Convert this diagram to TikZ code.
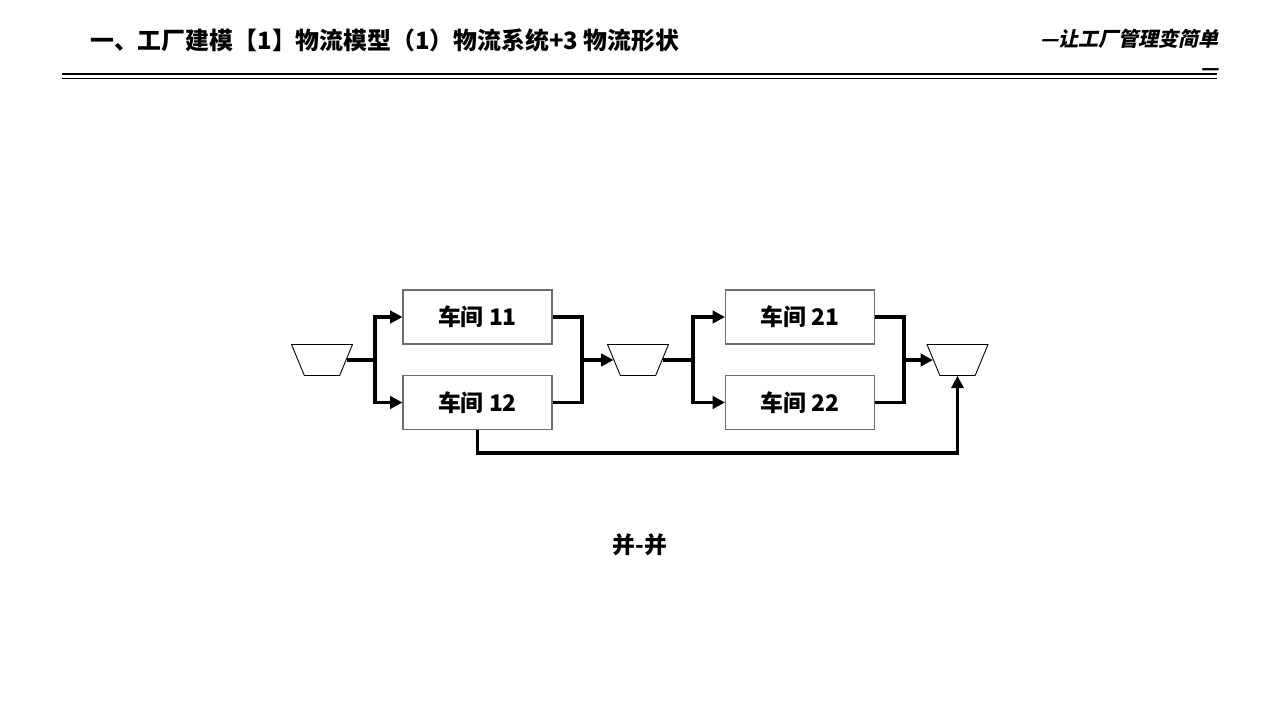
\documentclass[tikz,border=0pt]{standalone}
\usepackage{fontspec}
\setmainfont{Noto Sans CJK SC}
\newfontfamily\slantcjk{Noto Sans CJK SC}[FakeSlant=0.22]
\usepackage{xcolor}
\usepackage{tikz}
\usetikzlibrary{arrows.meta,positioning,shapes.geometric,calc}
\definecolor{trait}{RGB}{0,0,0}
\definecolor{cadre}{RGB}{110,110,110}

\begin{document}
\begin{tikzpicture}[x=0.02cm,y=-0.02cm,
    atelier/.style={draw=cadre,line width=0.6pt,minimum width=2.98cm,minimum height=1.08cm,
                    font=\fontsize{13}{15}\selectfont\bfseries,inner sep=0pt},
    stock/.style={draw=trait,line width=0.5pt,trapezium,trapezium stretches=true,
                  trapezium left angle=70,trapezium right angle=70,shape border rotate=180,
                  minimum width=1.22cm,minimum height=0.62cm,inner sep=2pt},
    flux/.style={trait,line width=1.8pt},
    fluxa/.style={flux,-{Triangle[length=7pt,width=7pt]}}]
      \useasboundingbox (0,0) rectangle (1280,720);
      % en-tete
      \node[anchor=west,font=\fontsize{13.6}{16}\selectfont\bfseries] (titre) at (84,40)
           {一、工厂建模【1】物流模型（1）物流系统+3 物流形状};
      \node[anchor=north east,align=right,font=\fontsize{11.4}{16.5}\selectfont\slantcjk\bfseries,inner sep=0pt]
           (devise) at (1219,29) {—让工厂管理变简单\\—};
      \draw[line width=1.2pt](62,74.3)--(1217,74.3);
      \draw[line width=0.6pt](62,78.3)--(1217,78.3);
      % ateliers
      \node[atelier] (w11) at (477.5,317) {车间 11};
      \node[atelier] (w12) at (477.5,402.5) {车间 12};
      \node[atelier] (w21) at (800,317) {车间 21};
      \node[atelier] (w22) at (800,402.5) {车间 22};
      \node[stock] (t1) at (322,360) {};
      \node[stock] (t2) at (638,360) {};
      \node[stock] (t3) at (957.5,360) {};
      % flux
      \coordinate (s1) at (375,360);
      \coordinate (m1) at (582,360);
      \coordinate (s2) at (693,360);
      \coordinate (m2) at (904,360);
      \coordinate (bas) at (478,453);
      \draw[flux](t1.east)--(s1);
      \draw[fluxa](s1)|-(w11.west);
      \draw[fluxa](s1)|-(w12.west);
      \draw[flux](w11.east)-|(m1);
      \draw[flux](w12.east)-|(m1);
      \draw[fluxa](m1)--(t2.west);
      \draw[flux](t2.east)--(s2);
      \draw[fluxa](s2)|-(w21.west);
      \draw[fluxa](s2)|-(w22.west);
      \draw[flux](w21.east)-|(m2);
      \draw[flux](w22.east)-|(m2);
      \draw[fluxa](m2)--(t3.west);
      \draw[fluxa](w12.south)--(w12.south|-bas)-|(t3.south);
      \node[font=\fontsize{13}{15}\selectfont\bfseries] (legende) at (640,545) {并-并};
    \end{tikzpicture}
\end{document}
